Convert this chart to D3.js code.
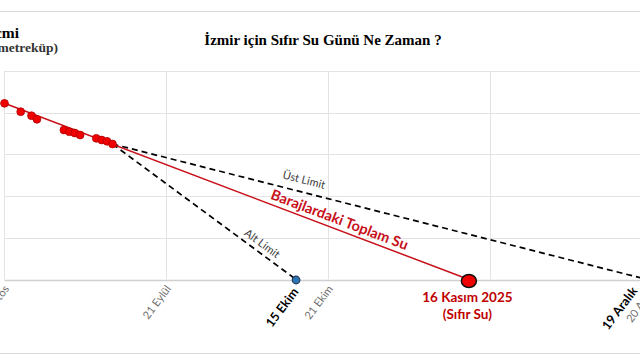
<!DOCTYPE html>
<html><head><meta charset="utf-8">
<script src="https://cdn.jsdelivr.net/npm/d3@7"></script>
<style>html,body{margin:0;padding:0;background:#fff;overflow:hidden}svg{display:block}</style>
</head><body>
<svg id="c" width="640" height="360"></svg>
<script>
// ---- data ----
const obsDates = ["2025-08-22","2025-08-25","2025-08-27","2025-08-28","2025-09-02","2025-09-03","2025-09-04","2025-09-05","2025-09-08","2025-09-09","2025-09-10","2025-09-11"];
const obsVolumes = [42.25,40.24,39.28,38.42,35.85,35.44,35.13,34.65,33.86,33.45,33.14,32.49];
const trendDates = ["2025-08-22","2025-11-16"];
const trendVolumes = [42.25,0];
const altDates = ["2025-09-11","2025-10-15"];
const altVolumes = [32.49,0];
const ustDates = ["2025-09-11","2025-12-19"];
const ustVolumes = [32.49,0];
const xTickDates = ["2025-08-22","2025-09-21","2025-10-21","2025-11-20","2025-12-20"];
const xTickLabels = ["22 Ağustos","21 Eylül","21 Ekim","20 Kasım","20 Aralık"];
const yTicks = [0,10,20,30,40,50];
const titleText = "İzmir için Sıfır Su Günü Ne Zaman ?";
const yTitle1 = "Su Hacmi";
const yTitle2 = "(Milyon metreküp)";
const seriesLabel = "Barajlardaki Toplam Su";
const altLabel = "Alt Limit";
const ustLabel = "Üst Limit";
const zeroLabel1 = "16 Kasım 2025";
const zeroLabel2 = "(Sıfır Su)";
const altDateLabel = "15 Ekim";
const ustDateLabel = "19 Aralık";

const parse = d3.utcParse("%Y-%m-%d");
const svg = d3.select("#c");
const sans = "Lato, 'Open Sans', sans-serif";
const serif = "'Liberation Serif', 'DejaVu Serif', serif";

const x = d3.scaleUtc().domain([parse("2025-08-22"), parse("2025-12-20")]).range([4.5, 652.5]);
const y = d3.scaleLinear().domain([0, 50]).range([279.5, 71]);

// outer frame lines
svg.append("line").attr("x1",0).attr("x2",640).attr("y1",11.5).attr("y2",11.5).attr("stroke","#d9d9d9");
svg.append("line").attr("x1",0).attr("x2",640).attr("y1",353.5).attr("y2",353.5).attr("stroke","#d9d9d9");

// gridlines
const grid = svg.append("g");
grid.selectAll("line.h").data(yTicks).join("line")
  .attr("x1", x.range()[0]).attr("x2", x.range()[1])
  .attr("y1", d => Math.round(y(d))+0.5).attr("y2", d => Math.round(y(d))+0.5)
  .attr("stroke", d => d===0 ? "#d0d0d0" : "#e3e3e3").attr("stroke-width", d => d===0?1.3:1);
grid.selectAll("line.v").data(xTickDates).join("line")
  .attr("x1", d => x(parse(d))).attr("x2", d => x(parse(d)))
  .attr("y1", y(50)).attr("y2", y(0))
  .attr("stroke", "#e3e3e3");

// x tick labels
svg.append("g").selectAll("text").data(xTickDates).join("text")
  .attr("transform", d => `translate(${x(parse(d))+5},${289}) rotate(-53)`)
  .attr("text-anchor","end").attr("font-family",sans).attr("font-size",11).attr("fill","#707070")
  .text((d,i) => xTickLabels[i]);

// lines
const line = d3.line().x(d => x(d[0])).y(d => y(d[1]));
const mk = (ds, vs) => ds.map((d,i) => [parse(d), vs[i]]);
svg.append("path").attr("d", line(mk(ustDates, ustVolumes))).attr("fill","none")
  .attr("stroke","#000").attr("stroke-width",1.7).attr("stroke-dasharray","6,4");
svg.append("path").attr("d", line(mk(altDates, altVolumes))).attr("fill","none")
  .attr("stroke","#000").attr("stroke-width",1.7).attr("stroke-dasharray","6,4");
svg.append("path").attr("d", line(mk(trendDates, trendVolumes))).attr("fill","none")
  .attr("stroke","#c8101a").attr("stroke-width",1.5);

// observed points
svg.append("g").selectAll("circle").data(mk(obsDates, obsVolumes)).join("circle")
  .attr("cx", d => x(d[0])).attr("cy", d => y(d[1])).attr("r", 3.9)
  .attr("fill","#f00000").attr("stroke","#b00000").attr("stroke-width",0.8);

// end points
const altEnd = mk(altDates, altVolumes)[1];
const trendEnd = mk(trendDates, trendVolumes)[1];
const ustEnd = mk(ustDates, ustVolumes)[1];
svg.append("circle").attr("cx", x(altEnd[0])).attr("cy", y(altEnd[1])+0.5).attr("r",3.8)
  .attr("fill","#2e75b6").attr("stroke","#1f3a5f").attr("stroke-width",1.2);

// label background for zero-day annotation
svg.append("rect").attr("x", x(trendEnd[0])-50).attr("y", 287).attr("width", 100).attr("height", 42).attr("fill","#fff");

svg.append("ellipse").attr("cx", x(trendEnd[0])).attr("cy", y(trendEnd[1])+1.5).attr("rx",7.5).attr("ry",6.5)
  .attr("fill","#f00000").attr("stroke","#111").attr("stroke-width",1.5);

// annotations
svg.append("text").attr("x", x(trendEnd[0])-1.5).attr("y", 302).attr("text-anchor","middle")
  .attr("font-family",sans).attr("font-weight","bold").attr("font-size",13.5).attr("fill","#c00000").text(zeroLabel1);
svg.append("text").attr("x", x(trendEnd[0])-1.5).attr("y", 319).attr("text-anchor","middle")
  .attr("font-family",sans).attr("font-weight","bold").attr("font-size",13.5).attr("fill","#c00000").text(zeroLabel2);

svg.append("text").attr("transform", `translate(${x(altEnd[0])+3},${292}) rotate(-53)`)
  .attr("text-anchor","end").attr("font-family",sans).attr("font-weight","bold").attr("font-size",12.5).attr("fill","#000").text(altDateLabel);
svg.append("text").attr("transform", `translate(${x(ustEnd[0])-9},${291}) rotate(-53)`)
  .attr("text-anchor","end").attr("font-family",sans).attr("font-weight","bold").attr("font-size",12.5).attr("fill","#000").text(ustDateLabel);

// labels along lines
function along(ds, vs, px, offset, txt, size, weight, color) {
  const p = mk(ds, vs);
  const x1 = x(p[0][0]), y1 = y(p[0][1]), x2 = x(p[1][0]), y2 = y(p[1][1]);
  const ang = Math.atan2(y2-y1, x2-x1);
  const py = y1 + (px - x1) * (y2-y1)/(x2-x1);
  svg.append("text")
    .attr("transform", `translate(${px},${py}) rotate(${ang*180/Math.PI}) translate(0,${-offset})`)
    .attr("text-anchor","middle").attr("font-family",sans).attr("font-size",size)
    .attr("font-weight",weight).attr("fill",color).text(txt);
}
along(trendDates, trendVolumes, 336, 5, seriesLabel, 14.5, "bold", "#c8101a");
along(ustDates, ustVolumes, 301, 8.5, ustLabel, 11, "normal", "#404040");
along(altDates, altVolumes, 257, 5, altLabel, 11, "normal", "#404040");

// title
svg.append("text").attr("x", 323).attr("y", 45).attr("text-anchor","middle")
  .attr("font-family",serif).attr("font-weight","bold").attr("font-size",15).attr("fill","#000").text(titleText);
svg.append("text").attr("x", 19).attr("y", 38).attr("text-anchor","end")
  .attr("font-family",serif).attr("font-weight","bold").attr("font-size",15.5).attr("fill","#000").text(yTitle1);
svg.append("text").attr("x", 58).attr("y", 52).attr("text-anchor","end")
  .attr("font-family",serif).attr("font-weight","bold").attr("font-size",13.5).attr("fill","#333").text(yTitle2);
</script>
</body></html>
